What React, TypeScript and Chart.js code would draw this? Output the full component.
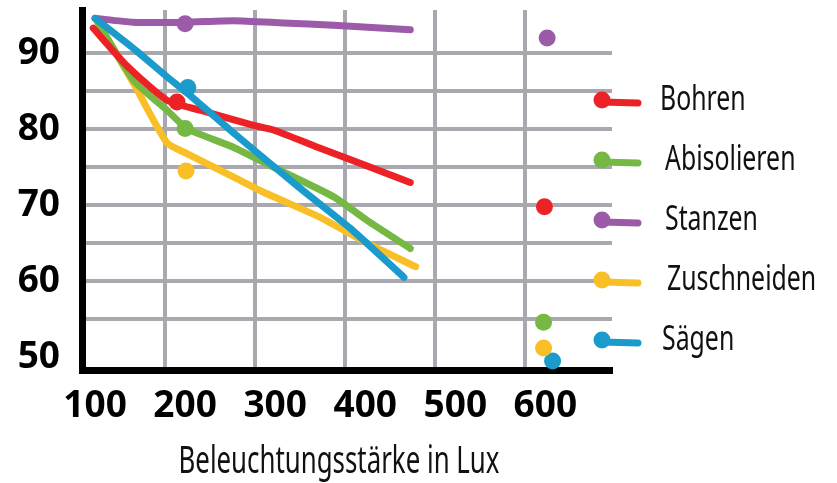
import { useEffect, useRef } from "react";
import Chart from "chart.js/auto";

const seriesNames = ["Bohren", "Abisolieren", "Stanzen", "Zuschneiden", "Sägen"];
const seriesColors = ["#ec2227", "#76b844", "#9b5ba8", "#f9bf26", "#1a9bcb"];
const xAxisTitle = "Beleuchtungsstärke in Lux";

const xTickValues = [100, 200, 300, 400, 500, 600];
const yTickValues = [50, 60, 70, 80, 90];
const xGridValues = [178, 278, 378, 477, 577];
const yGridValues = [55, 60, 65, 70, 75, 80, 85, 90];

// line series (x in Lux, y in %)
const bohrenX = [98, 135, 180, 217, 276, 298, 350, 450];
const bohrenY = [93.3, 88.4, 83.8, 82.5, 80.5, 79.9, 77.5, 73.0];
const abisolierenX = [102, 143, 180, 202, 254, 298, 365, 402, 450];
const abisolierenY = [94.3, 86.4, 82.5, 80.1, 77.6, 75.0, 71.1, 68.0, 64.3];
const stanzenX = [100, 142, 200, 254, 309, 365, 450];
const stanzenY = [94.6, 94.1, 94.1, 94.3, 94.0, 93.7, 93.1];
const zuschneidenX = [103, 143, 180, 202, 254, 291, 350, 402, 456];
const zuschneidenY = [94.1, 86.0, 78.2, 76.8, 73.7, 71.5, 68.4, 65.0, 61.9];
const saegenX = [100, 143, 180, 202, 254, 328, 383, 443];
const saegenY = [94.6, 90.6, 86.9, 84.8, 79.5, 72.2, 67.0, 60.5];

// single dots (order: Bohren, Abisolieren, Stanzen, Zuschneiden, Sägen)
const dots200X = [191, 200, 200, 201, 203];
const dots200Y = [83.6, 80.1, 93.9, 74.5, 85.5];
const dots600X = [599, 598, 602, 598, 608];
const dots600Y = [69.8, 54.6, 92.0, 51.2, 49.5];

const lineXs = [bohrenX, abisolierenX, stanzenX, zuschneidenX, saegenX];
const lineYs = [bohrenY, abisolierenY, stanzenY, zuschneidenY, saegenY];

const FAMILY = '"Noto Sans", "DejaVu Sans", sans-serif';

const textPlugin = {
  id: "lollipopLegendAndTitle",
  afterDraw(chart: any) {
    const ctx = chart.ctx;
    const area = chart.chartArea;
    const x0 = area.right - 10;
    ctx.save();
    const textOffsets = [58, 63, 63, 65, 60];
    seriesNames.forEach((name, i) => {
      const y = 100 + i * 60;
      ctx.strokeStyle = seriesColors[i];
      ctx.lineWidth = 7;
      ctx.lineCap = "round";
      ctx.beginPath();
      ctx.moveTo(x0, y + 2);
      ctx.lineTo(x0 + 36, y + 3);
      ctx.stroke();
      ctx.fillStyle = seriesColors[i];
      ctx.beginPath();
      ctx.arc(x0, y, 8.5, 0, Math.PI * 2);
      ctx.fill();
      ctx.save();
      ctx.fillStyle = "#111";
      ctx.font = `35px ${FAMILY}`;
      ctx.textBaseline = "alphabetic";
      ctx.textAlign = "left";
      ctx.translate(x0 + textOffsets[i], y + 10);
      ctx.scale(0.71, 1);
      ctx.fillText(name, 0, 0);
      ctx.restore();
    });
    // axis title
    ctx.save();
    ctx.fillStyle = "#111";
    ctx.font = `38px ${FAMILY}`;
    ctx.textBaseline = "alphabetic";
    ctx.textAlign = "center";
    ctx.translate((area.left + area.right) / 2 - 8, 473);
    ctx.scale(0.68, 1);
    ctx.fillText(xAxisTitle, 0, 0);
    ctx.restore();
    ctx.restore();
  },
};

export default function App() {
  const ref = useRef<HTMLCanvasElement>(null);
  useEffect(() => {
    document.body.style.margin = "0";
    const datasets: any[] = [];
    seriesNames.forEach((name, i) => {
      datasets.push({
        type: "line",
        label: name,
        data: lineXs[i].map((x, k) => ({ x, y: lineYs[i][k] })),
        borderColor: seriesColors[i],
        borderWidth: 7,
        borderCapStyle: "round",
        borderJoinStyle: "round",
        pointRadius: 0,
        tension: 0.2,
        clip: false,
        order: i === 4 ? 2 : 3 + i,
      });
    });
    seriesNames.forEach((name, i) => {
      datasets.push({
        type: "scatter",
        label: name + " dots",
        data: [
          { x: dots200X[i], y: dots200Y[i] },
          { x: dots600X[i], y: dots600Y[i] },
        ],
        backgroundColor: seriesColors[i],
        borderWidth: 0,
        pointRadius: 8.5,
        showLine: false,
        clip: false,
        order: 1,
      });
    });
    const chart = new Chart(ref.current!, {
      type: "line",
      data: { datasets },
      plugins: [textPlugin],
      options: {
        animation: false,
        responsive: false,
        layout: { padding: { top: 10, right: 225, left: 0, bottom: 0 } },
        plugins: { legend: { display: false }, tooltip: { enabled: false } },
        scales: {
          x: {
            type: "linear",
            position: "bottom",
            min: 85.5,
            max: 674,
            afterBuildTicks: (s: any) => {
              s.ticks = xTickValues.map((v) => ({ value: v }));
            },
            afterFit: (s: any) => {
              s.height = 113;
              s.paddingLeft = 0;
              s.paddingRight = 0;
            },
            grid: { display: false, drawTicks: false },
            border: { display: true, color: "#000", width: 7 },
            ticks: {
              padding: 14,
              color: "#000",
              font: { family: FAMILY, size: 37, weight: "bold" },
              callback: (v: any) => String(v),
            },
          },
          xg: {
            type: "linear",
            position: "bottom",
            min: 85.5,
            max: 674,
            afterBuildTicks: (s: any) => {
              s.ticks = xGridValues.map((v) => ({ value: v }));
            },
            afterFit: (s: any) => {
              s.height = 0;
            },
            grid: { display: true, color: "#a9a8ae", lineWidth: 4, drawTicks: false },
            border: { display: false },
            ticks: { display: false },
          },
          y: {
            type: "linear",
            position: "left",
            min: 48.3,
            max: 95.7,
            afterBuildTicks: (s: any) => {
              s.ticks = yTickValues.map((v) => ({ value: v }));
            },
            afterFit: (s: any) => {
              s.width = 82;
              s.paddingTop = 0;
              s.paddingBottom = 0;
            },
            grid: { display: false, drawTicks: false },
            border: { display: true, color: "#000", width: 7 },
            ticks: {
              padding: 22,
              color: "#000",
              font: { family: FAMILY, size: 37, weight: "bold" },
              callback: (v: any) => String(v),
            },
          },
          yg: {
            type: "linear",
            position: "left",
            min: 48.3,
            max: 95.7,
            afterBuildTicks: (s: any) => {
              s.ticks = yGridValues.map((v) => ({ value: v }));
            },
            afterFit: (s: any) => {
              s.width = 0;
              s.paddingTop = 0;
              s.paddingBottom = 0;
            },
            grid: { display: true, color: "#a9a8ae", lineWidth: 4, drawTicks: false },
            border: { display: false },
            ticks: { display: false },
          },
        },
      } as any,
    });
    return () => chart.destroy();
  }, []);
  return <canvas ref={ref} width={837} height={483} style={{ display: "block" }} />;
}
